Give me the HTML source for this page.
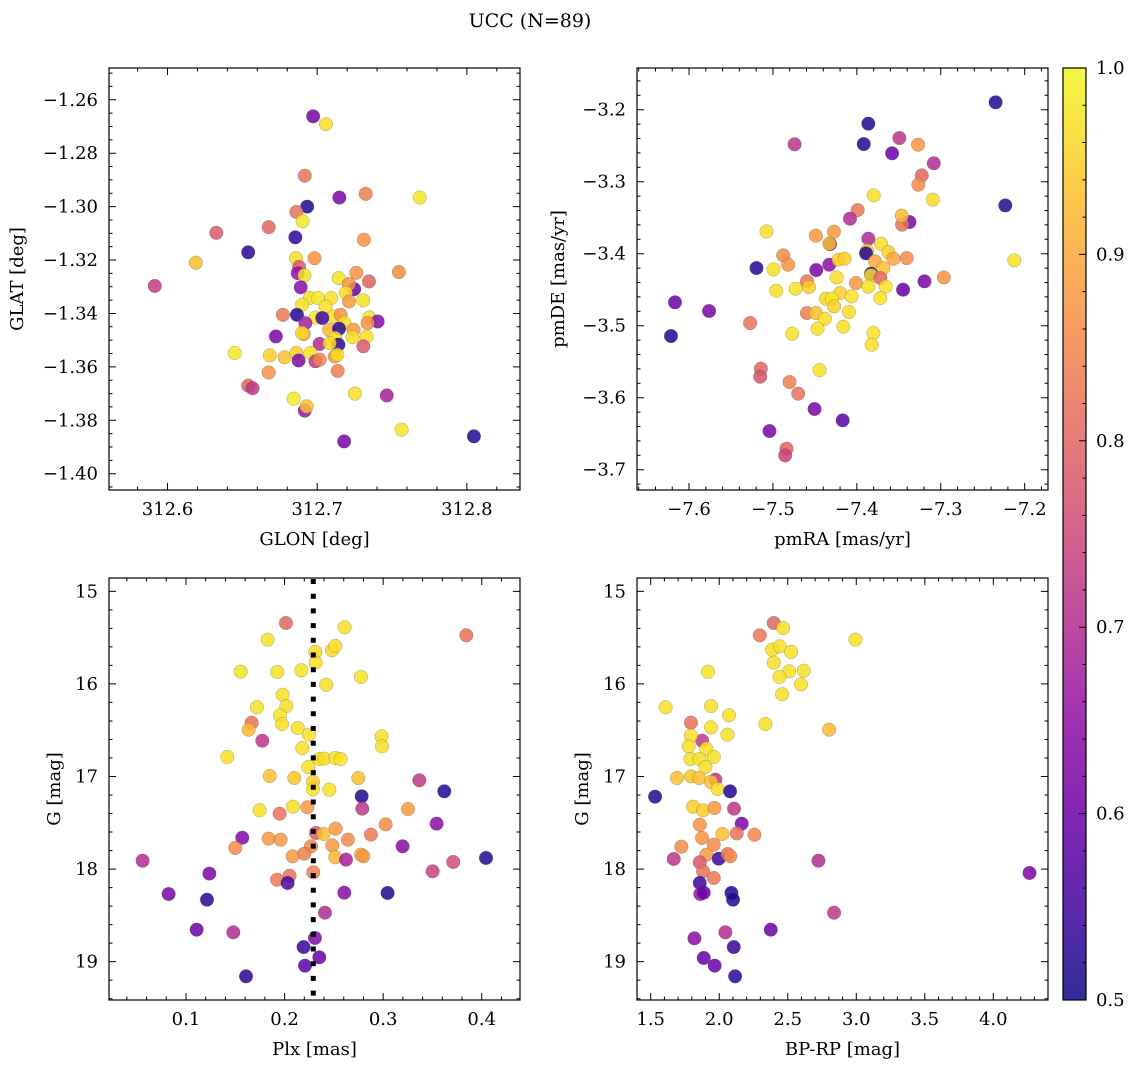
<!DOCTYPE html>
<html><head><meta charset="utf-8"><style>
html,body{margin:0;padding:0;background:#fff;}
svg{display:block;font-family:"DejaVu Serif","Liberation Serif",serif;}
</style></head><body>
<svg id="fig" width="1136" height="1067" viewBox="0 0 1136 1067" xmlns="http://www.w3.org/2000/svg">
<text x="530" y="27" font-size="19" text-anchor="middle">UCC (N=89)</text>
</svg>
<script>
// ---- Panel 1: GLON vs GLAT ----
const p1X=[312.6973,312.7058,312.6917,312.7148,312.7324,312.7685,312.6933,312.6861,312.6903,312.6676,312.6326,312.6854,312.7312,312.6539,312.6189,312.6858,312.6982,312.6879,312.6870,312.6915,312.7261,312.7546,312.7346,312.7144,312.5915,312.6890,312.7247,312.7211,312.7191,312.7213,312.7308,312.6951,312.7004,312.7094,312.6899,312.7056,312.6771,312.6865,312.6989,312.7112,312.7157,312.6921,312.7034,312.7182,312.7348,312.7404,312.7337,312.7079,312.7146,312.7243,312.6724,312.6910,312.6899,312.7120,312.7236,312.7330,312.7016,312.7142,312.7083,312.7308,312.6449,312.6683,312.6782,312.6861,312.6876,312.6955,312.6989,312.7016,312.7117,312.7135,312.6676,312.7137,312.6539,312.6568,312.6843,312.6917,312.6930,312.7252,312.7465,312.7564,312.7180,312.8047];
const p1Y=[-1.2662,-1.2691,-1.2884,-1.2966,-1.2952,-1.2966,-1.3000,-1.3020,-1.3055,-1.3077,-1.3098,-1.3115,-1.3124,-1.3171,-1.3210,-1.3193,-1.3193,-1.3226,-1.3249,-1.3257,-1.3248,-1.3245,-1.3280,-1.3268,-1.3297,-1.3302,-1.3309,-1.3290,-1.3323,-1.3355,-1.3351,-1.3342,-1.3342,-1.3342,-1.3367,-1.3374,-1.3405,-1.3405,-1.3415,-1.3411,-1.3405,-1.3436,-1.3417,-1.3436,-1.3415,-1.3430,-1.3436,-1.3461,-1.3457,-1.3461,-1.3486,-1.3477,-1.3473,-1.3492,-1.3489,-1.3487,-1.3514,-1.3517,-1.3511,-1.3523,-1.3548,-1.3557,-1.3564,-1.3548,-1.3576,-1.3548,-1.3579,-1.3573,-1.3561,-1.3555,-1.3621,-1.3615,-1.3670,-1.3680,-1.3719,-1.3764,-1.3748,-1.3700,-1.3707,-1.3835,-1.3879,-1.3860];
const p1C=[0.62,0.97,0.82,0.62,0.84,0.98,0.52,0.82,0.98,0.80,0.78,0.53,0.87,0.53,0.93,0.97,0.87,0.78,0.65,0.97,0.87,0.86,0.80,0.97,0.73,0.64,0.60,0.87,0.97,0.88,0.97,0.97,0.98,0.97,0.97,0.97,0.83,0.52,0.98,0.97,0.87,0.68,0.55,0.97,0.97,0.63,0.87,0.92,0.53,0.88,0.62,0.90,0.96,0.97,0.97,0.97,0.70,0.53,0.96,0.78,0.98,0.95,0.93,0.95,0.63,0.97,0.72,0.85,0.88,0.97,0.87,0.84,0.80,0.72,0.98,0.66,0.93,0.97,0.68,0.98,0.62,0.52];
// ---- Panel 2: pmRA vs pmDE ----
const p2X=[-7.2346,-7.3863,-7.3918,-7.4742,-7.3493,-7.3580,-7.3270,-7.3083,-7.3226,-7.3266,-7.3799,-7.3095,-7.2231,-7.3990,-7.4082,-7.3373,-7.3461,-7.3465,-7.5077,-7.4488,-7.4273,-7.4320,-7.4328,-7.3863,-7.3711,-7.3879,-7.3891,-7.3624,-7.4878,-7.4818,-7.5196,-7.4993,-7.4484,-7.4329,-7.4217,-7.4146,-7.3783,-7.3684,-7.3564,-7.3405,-7.2123,-7.3831,-7.3831,-7.3720,-7.2963,-7.3194,-7.3449,-7.4241,-7.4595,-7.4010,-7.4961,-7.4730,-7.4571,-7.3863,-7.3656,-7.4199,-7.4063,-7.4369,-7.4298,-7.4271,-7.3720,-7.4095,-7.4595,-7.4488,-7.4380,-7.4468,-7.4161,-7.6167,-7.5761,-7.6215,-7.5272,-7.4770,-7.3803,-7.3823,-7.4444,-7.5144,-7.5152,-7.4802,-7.4699,-7.4504,-7.4169,-7.5041,-7.4838,-7.4854];
const p2Y=[-3.1898,-3.2194,-3.2477,-3.2481,-3.2394,-3.2606,-3.2486,-3.2745,-3.2912,-3.3042,-3.3190,-3.3250,-3.3329,-3.3394,-3.3514,-3.3560,-3.3597,-3.3472,-3.3690,-3.3750,-3.3694,-3.3866,-3.3861,-3.3792,-3.3861,-3.3958,-3.3995,-3.3977,-3.4023,-3.4153,-3.4199,-3.4218,-3.4227,-3.4153,-3.4083,-3.4069,-3.4106,-3.4199,-3.4069,-3.4060,-3.4093,-3.4278,-3.4301,-3.4338,-3.4329,-3.4384,-3.4500,-3.4329,-3.4384,-3.4407,-3.4514,-3.4486,-3.4463,-3.4458,-3.4458,-3.4546,-3.4593,-3.4625,-3.4625,-3.4731,-3.4616,-3.4810,-3.4824,-3.4824,-3.4903,-3.5042,-3.5014,-3.4676,-3.4796,-3.5144,-3.4963,-3.5111,-3.5102,-3.5264,-3.5616,-3.5597,-3.5708,-3.5782,-3.5944,-3.6157,-3.6315,-3.6463,-3.6708,-3.6801];
const p2C=[0.52,0.52,0.52,0.72,0.72,0.60,0.87,0.70,0.80,0.86,0.97,0.96,0.52,0.83,0.70,0.62,0.82,0.92,0.97,0.88,0.88,0.60,0.93,0.70,0.97,0.95,0.52,0.95,0.86,0.87,0.52,0.97,0.62,0.65,0.95,0.95,0.90,0.93,0.90,0.86,0.97,0.52,0.96,0.80,0.87,0.62,0.60,0.97,0.83,0.88,0.97,0.97,0.95,0.97,0.97,0.95,0.97,0.96,0.98,0.95,0.97,0.97,0.84,0.93,0.97,0.97,0.97,0.60,0.62,0.52,0.82,0.97,0.97,0.97,0.97,0.80,0.77,0.84,0.82,0.62,0.58,0.62,0.80,0.74];
// ---- Panel 3: Plx vs G ----
const p3X=[0.2014,0.2609,0.3843,0.1828,0.2312,0.2481,0.2515,0.2315,0.1554,0.1926,0.2170,0.2775,0.2423,0.1980,0.1720,0.2018,0.1953,0.1974,0.1666,0.1636,0.2133,0.2247,0.1774,0.2984,0.2988,0.1419,0.2180,0.2352,0.2403,0.2515,0.2569,0.2241,0.1849,0.2099,0.2288,0.2288,0.2454,0.2748,0.3367,0.3620,0.2782,0.2788,0.1747,0.2085,0.2231,0.1950,0.3252,0.3542,0.3025,0.1571,0.1500,0.1838,0.1960,0.2318,0.2396,0.2518,0.2643,0.2876,0.3197,0.2268,0.2484,0.2082,0.2200,0.2515,0.2623,0.2775,0.2799,0.0560,0.3711,0.4043,0.3502,0.1237,0.2291,0.1923,0.2051,0.2031,0.0824,0.1213,0.2606,0.3045,0.2410,0.1108,0.1480,0.2308,0.2193,0.2352,0.2207,0.1609];
const p3Y=[15.342,15.389,15.475,15.522,15.655,15.637,15.590,15.770,15.868,15.871,15.853,15.925,16.008,16.116,16.253,16.239,16.339,16.433,16.419,16.494,16.476,16.548,16.613,16.566,16.674,16.789,16.692,16.811,16.807,16.800,16.811,16.897,16.995,17.016,17.059,17.139,17.142,17.016,17.041,17.160,17.214,17.347,17.365,17.326,17.333,17.401,17.351,17.509,17.517,17.661,17.772,17.671,17.682,17.610,17.621,17.563,17.682,17.628,17.754,17.754,17.743,17.862,17.834,17.873,17.898,17.844,17.862,17.909,17.923,17.880,18.024,18.049,18.035,18.114,18.071,18.150,18.269,18.330,18.255,18.258,18.471,18.654,18.683,18.744,18.842,18.953,19.043,19.158];
const p3C=[0.80,0.97,0.82,0.97,0.96,0.96,0.97,0.97,0.97,0.97,0.97,0.97,0.97,0.97,0.97,0.97,0.97,0.97,0.82,0.92,0.97,0.97,0.72,0.97,0.97,0.97,0.97,0.97,0.97,0.97,0.97,0.97,0.93,0.94,0.95,0.97,0.97,0.93,0.73,0.52,0.52,0.72,0.97,0.97,0.88,0.82,0.88,0.64,0.86,0.63,0.86,0.88,0.88,0.78,0.93,0.88,0.86,0.83,0.64,0.86,0.88,0.88,0.84,0.92,0.68,0.90,0.88,0.70,0.76,0.52,0.74,0.62,0.84,0.83,0.82,0.56,0.62,0.53,0.64,0.52,0.70,0.60,0.70,0.63,0.54,0.60,0.58,0.53];
const plxMean=0.2291;
// ---- Panel 4: BP-RP vs G ----
const p4X=[2.398,2.466,2.296,2.994,2.386,2.442,2.524,2.398,1.918,2.510,2.617,2.439,2.597,2.459,1.609,1.940,2.072,2.337,1.794,1.940,2.060,2.802,1.875,1.794,1.777,1.906,1.960,1.790,1.855,1.899,1.692,1.794,1.853,1.972,1.940,1.989,1.532,2.079,1.809,1.882,1.965,2.108,2.164,1.858,2.023,2.128,2.257,1.875,1.960,1.724,1.668,1.906,1.996,2.062,2.081,2.724,4.264,1.858,1.882,1.960,1.858,1.862,1.887,2.089,2.101,2.838,2.045,2.376,1.819,2.106,1.887,1.967,2.116];
const p4Y=[15.342,15.396,15.475,15.522,15.630,15.594,15.655,15.770,15.868,15.864,15.857,15.925,16.005,16.112,16.253,16.239,16.339,16.433,16.419,16.469,16.548,16.494,16.613,16.559,16.674,16.699,16.789,16.811,16.811,16.897,17.016,16.998,17.016,17.034,17.059,17.135,17.218,17.160,17.326,17.365,17.340,17.347,17.509,17.520,17.621,17.614,17.628,17.664,17.736,17.758,17.891,17.844,17.888,17.837,17.862,17.909,18.042,17.927,18.024,18.096,18.150,18.269,18.255,18.258,18.330,18.471,18.683,18.654,18.748,18.842,18.960,19.043,19.158];
const p4C=[0.80,0.97,0.83,0.97,0.97,0.97,0.97,0.97,0.97,0.97,0.97,0.97,0.97,0.97,0.97,0.97,0.97,0.97,0.82,0.97,0.97,0.92,0.72,0.97,0.97,0.97,0.97,0.97,0.97,0.97,0.93,0.94,0.93,0.72,0.93,0.97,0.52,0.52,0.95,0.95,0.88,0.72,0.62,0.87,0.93,0.82,0.85,0.87,0.86,0.86,0.72,0.88,0.55,0.82,0.86,0.70,0.62,0.78,0.82,0.83,0.55,0.66,0.60,0.52,0.52,0.72,0.70,0.60,0.64,0.54,0.60,0.60,0.53];
// ---- Axis ticks ----
const p1XTicks=[312.6,312.7,312.8];
const p1YTicks=[-1.26,-1.28,-1.30,-1.32,-1.34,-1.36,-1.38,-1.40];
const p2XTicks=[-7.6,-7.5,-7.4,-7.3,-7.2];
const p2YTicks=[-3.2,-3.3,-3.4,-3.5,-3.6,-3.7];
const p3XTicks=[0.1,0.2,0.3,0.4];
const gTicks=[15,16,17,18,19];
const p4XTicks=[1.5,2.0,2.5,3.0,3.5,4.0];
const cbTicks=[0.5,0.6,0.7,0.8,0.9,1.0];

const NS='http://www.w3.org/2000/svg';
const svg=document.getElementById('fig');
function mk(tag,attrs,parent){const e=document.createElementNS(NS,tag);for(const k in attrs)e.setAttribute(k,attrs[k]);(parent||svg).appendChild(e);return e;}
const stops=['#0d0887','#41049d','#6a00a8','#8f0da4','#b12a90','#cc4778','#e16462','#f2844b','#fca636','#fcce25','#f0f921'];
function hex(h){return [1,3,5].map(i=>parseInt(h.substr(i,2),16));}
function plasma(t){t=Math.max(0,Math.min(1,t));const f=t*10,i=Math.min(9,Math.floor(f)),r=f-i;const a=hex(stops[i]),b=hex(stops[i+1]);return 'rgb('+a.map((v,k)=>Math.round(v+(b[k]-v)*r)).join(',')+')';}
function cmap(c){return plasma((c-0.5)/0.5);}
function fmt(v,d){const s=Math.abs(v).toFixed(d);return (v<0?'\u2212':'')+s;}

function panel(o){
  const g=mk('g',{});
  
  
  const sx=v=>o.x0+(v-o.xd[0])/(o.xd[1]-o.xd[0])*(o.x1-o.x0);
  const sy=o.invY ? (v=>o.y0+(v-o.yd[0])/(o.yd[1]-o.yd[0])*(o.y1-o.y0))
                  : (v=>o.y1-(v-o.yd[0])/(o.yd[1]-o.yd[0])*(o.y1-o.y0));
  const pg=mk('g',{},g);
  
  
  for(let i=0;i<o.X.length;i++){
    const c=mk('circle',{cx:sx(o.X[i]).toFixed(2),cy:sy(o.Y[i]).toFixed(2),r:6.8,fill:cmap(o.C[i]),'fill-opacity':0.85,stroke:'#555','stroke-width':0.4,'stroke-opacity':0.6},pg);
    
    
  }
  if(o.vline!==undefined){
    const l=mk('line',{x1:sx(o.vline),x2:sx(o.vline),y1:o.y0+1,y2:o.y1,stroke:'#000','stroke-width':5,'stroke-dasharray':'5,9.7'},g);
    
    
  }
  const fr=mk('rect',{x:o.x0,y:o.y0,width:o.x1-o.x0,height:o.y1-o.y0,fill:'none',stroke:'#000','stroke-width':1.2},g);
  
  
  let tp='';
  for(let v=Math.ceil(o.xd[0]/o.xm-1e-6)*o.xm; v<=o.xd[1]; v+=o.xm){const x=sx(v);if(x<o.x0+0.5||x>o.x1-0.5)continue;tp+=`M${x},${o.y1}v-3.5M${x},${o.y0}v3.5`;}
  for(let v=Math.ceil(o.yd[0]/o.ym-1e-6)*o.ym; v<=o.yd[1]; v+=o.ym){const y=sy(v);if(y<o.y0+0.5||y>o.y1-0.5)continue;tp+=`M${o.x0},${y}h3.5M${o.x1},${y}h-3.5`;}
  o.xt.forEach(v=>{const x=sx(v);tp+=`M${x},${o.y1}v-7M${x},${o.y0}v7`;});
  o.yt.forEach(v=>{const y=sy(v);tp+=`M${o.x0},${y}h7M${o.x1},${y}h-7`;});
  const tk=mk('path',{d:tp,stroke:'#000','stroke-width':1,fill:'none'},g);
  
  
  o.xt.forEach(v=>{const t=mk('text',{x:sx(v),y:o.y1+25,'font-size':18,'text-anchor':'middle'},g);t.textContent=fmt(v,o.xdp);
    
    });
  o.yt.forEach(v=>{const t=mk('text',{x:o.x0-11,y:sy(v)+6,'font-size':18,'text-anchor':'end'},g);t.textContent=fmt(v,o.ydp);
    
    });
  const xl=mk('text',{x:(o.x0+o.x1)/2,y:o.y1+55,'font-size':18,'text-anchor':'middle'},g);xl.textContent=o.xlab;
  
  
  const yx=o.ylx,yy=(o.y0+o.y1)/2;
  const yl=mk('text',{x:yx,y:yy,'font-size':18,'text-anchor':'middle',transform:`rotate(-90 ${yx} ${yy})`},g);yl.textContent=o.ylab;
  
  
}
panel({name:'glon-glat-panel',x0:109,x1:520,y0:68,y1:490,xd:[312.5609,312.8355],yd:[-1.4061,-1.2481],X:p1X,Y:p1Y,C:p1C,xt:p1XTicks,yt:p1YTicks,xm:0.02,ym:0.005,xdp:1,ydp:2,xlab:'GLON [deg]',ylab:'GLAT [deg]',ylx:23});
panel({name:'pm-panel',x0:637,x1:1048,y0:68,y1:490,xd:[-7.662,-7.1722],yd:[-3.7282,-3.1421],X:p2X,Y:p2Y,C:p2C,xt:p2XTicks,yt:p2YTicks,xm:0.02,ym:0.02,xdp:1,ydp:1,xlab:'pmRA [mas/yr]',ylab:'pmDE [mas/yr]',ylx:564});
panel({name:'plx-g-panel',x0:109,x1:520,y0:578,y1:1000,xd:[0.0219,0.4388],yd:[14.856,19.414],X:p3X,Y:p3Y,C:p3C,xt:p3XTicks,yt:gTicks,xm:0.02,ym:0.2,xdp:1,ydp:0,xlab:'Plx [mas]',ylab:'G [mag]',ylx:60,vline:plxMean,invY:true});
panel({name:'cmd-panel',x0:637,x1:1048,y0:578,y1:1000,xd:[1.4,4.399],yd:[14.856,19.414],X:p4X,Y:p4Y,C:p4C,xt:p4XTicks,yt:gTicks,xm:0.1,ym:0.2,xdp:1,ydp:0,xlab:'BP-RP [mag]',ylab:'G [mag]',ylx:588,invY:true});

(function(){
  const x0=1063,x1=1086,y0=68,y1=1000;
  const defs=mk('defs',{});
  const lg=mk('linearGradient',{id:'cbg',x1:0,y1:1,x2:0,y2:0},defs);
  stops.forEach((s,i)=>mk('stop',{offset:(i/10),'stop-color':s},lg));
  const r=mk('rect',{x:x0,y:y0,width:x1-x0,height:y1-y0,fill:'url(#cbg)','fill-opacity':0.85,stroke:'#000','stroke-width':1.2});
  
  
  const sy=v=>y1-(v-0.5)/0.5*(y1-y0);
  let d='';
  for(let k=0;k<=25;k++){const v=0.5+k*0.02;d+=`M${x1},${sy(v)}h-3.5`;}
  cbTicks.forEach(v=>{d+=`M${x1},${sy(v)}h-7`;});
  const p=mk('path',{d:d,stroke:'#000','stroke-width':1});
  
  
  cbTicks.forEach(v=>{const t=mk('text',{x:x1+10,y:sy(v)+6,'font-size':18});t.textContent=v.toFixed(1);
    
    });
})();
</script>
</body></html>
